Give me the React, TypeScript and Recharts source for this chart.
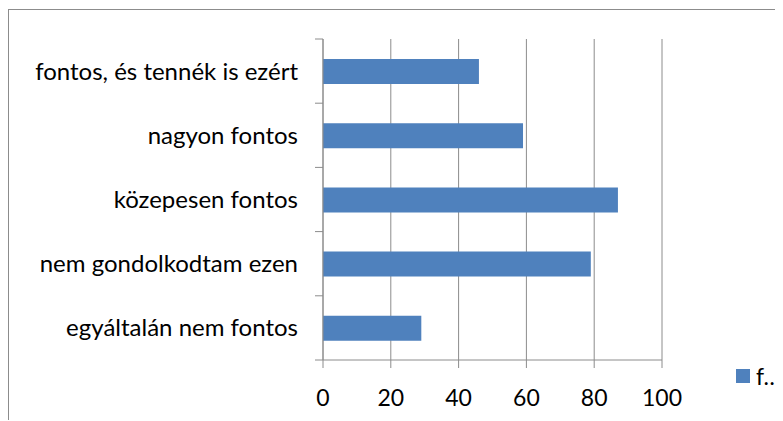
import { BarChart, Bar, XAxis, YAxis, CartesianGrid, Legend } from 'recharts';

const categories = [
  'fontos, és tennék is ezért',
  'nagyon fontos',
  'közepesen fontos',
  'nem gondolkodtam ezen',
  'egyáltalán nem fontos',
];
const values = [46, 59, 87, 79, 29];
const seriesName = 'f…';
const xTicks = [0, 20, 40, 60, 80, 100];

const data = categories.map((c, i) => ({ name: c, value: values[i] }));

const gray = '#8c8c8c';
const blue = '#4f81bd';
const font = 'Lato, "Noto Sans", sans-serif';

// category label plus the tick marks at the band edges (Excel style)
function CategoryTick({ x, y, payload, index, axisX }: any) {
  const half = payload?.offset ?? 0;
  return (
    <g>
      <line x1={axisX - 8} x2={axisX} y1={y - half} y2={y - half} stroke={gray} />
      {index === categories.length - 1 && (
        <line x1={axisX - 8} x2={axisX} y1={y + half} y2={y + half} stroke={gray} />
      )}
      <text x={x} y={y} dy="0.35em" textAnchor="end" fill="#000" fontSize={24} fontFamily={font}>
        {payload.value}
      </text>
    </g>
  );
}

function LegendBox({ payload }: any) {
  return (
    <div style={{ display: 'flex', alignItems: 'center', fontFamily: font, fontSize: 23, color: '#000', whiteSpace: 'nowrap' }}>
      {(payload || []).map((p: any) => (
        <span key={p.value} style={{ display: 'flex', alignItems: 'center' }}>
          <span style={{ width: 14, height: 14, background: p.color, marginRight: 6, display: 'inline-block' }} />
          {p.value}
        </span>
      ))}
    </div>
  );
}

const yAxisWidth = 314;

export default function App() {
  return (
    <div
      style={{
        position: 'relative',
        top: 1,
        width: 774,
        height: 411,
        overflow: 'hidden',
        borderLeft: `1px solid ${gray}`,
        borderTop: `1px solid ${gray}`,
      }}
    >
      <BarChart
        width={774}
        height={411}
        data={data}
        layout="vertical"
        margin={{ top: 29, right: 121, bottom: 31, left: 0 }}
      >
        <CartesianGrid horizontal={false} stroke={gray} strokeDasharray="" />
        <XAxis
          type="number"
          domain={[0, 100]}
          ticks={xTicks}
          height={30}
          stroke={gray}
          tickSize={8}
          tickMargin={22}
          tick={{ fill: '#000', fontSize: 23, fontFamily: font }}
        />
        <YAxis
          type="category"
          dataKey="name"
          width={yAxisWidth}
          stroke={gray}
          tickLine={false}
          tickSize={0}
          tickMargin={25}
          interval={0}
          tick={<CategoryTick axisX={yAxisWidth} />}
        />
        <Legend
          layout="horizontal"
          align="center"
          verticalAlign="middle"
          content={<LegendBox />}
          wrapperStyle={{ left: 727, top: 352, width: 'auto' }}
        />
        <Bar dataKey="value" name={seriesName} fill={blue} barSize={25} isAnimationActive={false} />
      </BarChart>
    </div>
  );
}
